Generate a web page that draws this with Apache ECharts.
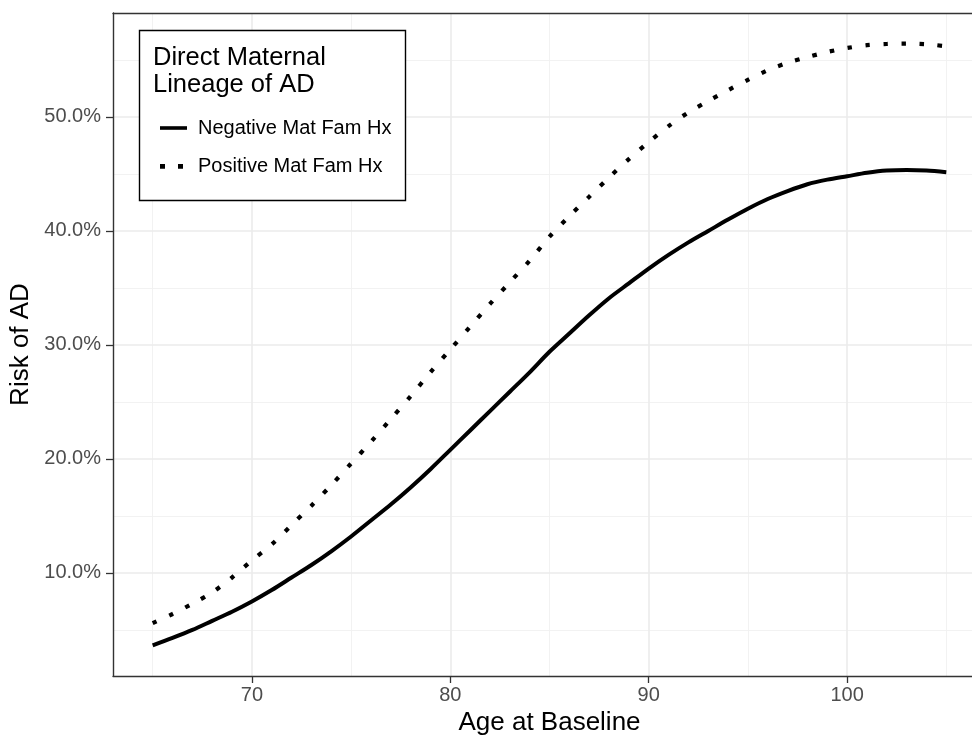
<!DOCTYPE html>
<html>
<head>
<meta charset="utf-8">
<script src="https://cdn.jsdelivr.net/npm/echarts@6/dist/echarts.min.js"></script>
<style>
html,body{margin:0;padding:0;background:#fff;}
#chart{width:972px;height:736px;}
</style>
</head>
<body>
<div id="chart"></div>
<script>
// ---- data ----
const ages = [65,66,67,68,69,70,71,72,73,74,75,76,77,78,79,80,81,82,83,84,85,86,87,88,89,90,91,92,93,94,95,96,97,98,99,100,101,102,103,104,105];
const negativeRisk = [3.65,4.3,5.0,5.8,6.6,7.5,8.5,9.6,10.7,11.9,13.2,14.6,16.0,17.5,19.1,20.8,22.5,24.2,25.9,27.6,29.4,31.0,32.6,34.1,35.4,36.7,37.9,39.0,40.0,41.0,41.95,42.8,43.5,44.1,44.5,44.8,45.1,45.3,45.35,45.3,45.15];
const positiveRisk = [5.6,6.4,7.3,8.3,9.6,11.1,12.5,14.2,15.9,17.7,19.6,21.5,23.5,25.5,27.6,29.6,31.6,33.6,35.5,37.4,39.5,41.3,43.0,44.7,46.3,47.8,49.2,50.4,51.4,52.35,53.25,54.1,54.75,55.25,55.7,56.05,56.3,56.4,56.43,56.38,56.2];
const seriesNames = ['Negative Mat Fam Hx','Positive Mat Fam Hx'];
const legendTitle = 'Direct Maternal\nLineage of AD';
const xMajorTicks = [70,80,90,100];
const xMinorTicks = [65,75,85,95,105];
const yMajorTicks = [10,20,30,40,50];
const yMinorTicks = [5,15,25,35,45,55];
const xRange = [63,107];
const yRange = [0.96,59.12];

const FONT = '"Liberation Sans", Arial, Helvetica, sans-serif';
const chart = echarts.init(document.getElementById('chart'), null, {renderer:'canvas'});

function pairs(vals){ return ages.map((a,i)=>[a, vals[i]]); }

const majorGrid = {show:true, lineStyle:{color:'#ebebeb', width:1.6}};
const minorGrid = {show:true, lineStyle:{color:'#f0f0f0', width:0.9}};
const borderLine = {show:true, onZero:false, lineStyle:{color:'#333333', width:1.4}};

// legend key glyphs (icon paths; trailing moves fix the icon's box to 27x20)
const solidKey = 'path://M0,8.2h27v3.6h-27zM0,0M27,20';
const dottedKey = 'path://M0,7.6h5v4.8h-5zM18,7.6h5v4.8h-5zM0,0M27,20';

const option = {
  animation:false,
  backgroundColor:'#ffffff',
  grid:{left:113, top:13, width:873, height:663, outerBoundsMode:'none', containLabel:false,
        show:true, backgroundColor:'#ffffff', borderWidth:0, z:0},
  xAxis:[
    {type:'value', min:xRange[0], max:xRange[1], gridIndex:0, position:'bottom',
     axisLine:{show:false}, axisLabel:{show:false}, axisTick:{show:false, customValues:xMinorTicks},
     splitLine:minorGrid, z:0},
    {type:'value', min:xRange[0], max:xRange[1], gridIndex:0, position:'bottom',
     name:'Age at Baseline', nameLocation:'middle', nameGap:34,
     nameTextStyle:{fontFamily:FONT, fontSize:26, color:'#000'},
     axisLine:borderLine,
     axisTick:{show:true, customValues:xMajorTicks, length:7, lineStyle:{color:'#333333', width:1.3}},
     axisLabel:{show:true, customValues:xMajorTicks, margin:9, fontFamily:FONT, fontSize:20, color:'#4d4d4d'},
     splitLine:majorGrid, z:1},
    {type:'value', min:xRange[0], max:xRange[1], gridIndex:0, position:'top',
     axisLine:borderLine, axisLabel:{show:false}, axisTick:{show:false}, splitLine:{show:false}, z:5}
  ],
  yAxis:[
    {type:'value', min:yRange[0], max:yRange[1], gridIndex:0, position:'right',
     axisLine:{show:false}, axisLabel:{show:false}, axisTick:{show:false, customValues:yMinorTicks},
     splitLine:minorGrid, z:0},
    {type:'value', min:yRange[0], max:yRange[1], gridIndex:0, position:'left',
     name:'Risk of AD', nameLocation:'middle', nameGap:79.5,
     nameTextStyle:{fontFamily:FONT, fontSize:26, color:'#000'},
     axisLine:borderLine,
     axisTick:{show:true, customValues:yMajorTicks, length:7, lineStyle:{color:'#333333', width:1.3}},
     axisLabel:{show:true, customValues:yMajorTicks, margin:12, fontFamily:FONT, fontSize:20, color:'#4d4d4d',
       formatter:v=>v.toFixed(1)+'%'},
     splitLine:majorGrid, z:1}
  ],
  legend:{
    show:true, orient:'vertical', left:155, top:113, z:10,
    itemWidth:27, itemHeight:20, itemGap:18.4,
    itemStyle:{color:'#000', borderWidth:0},
    textStyle:{fontFamily:FONT, fontSize:20, color:'#000', lineHeight:20, padding:[0,0,0,6]},
    data:[{name:seriesNames[0], icon:solidKey}, {name:seriesNames[1], icon:dottedKey}]
  },
  graphic:[
    {type:'rect', z:8, shape:{x:139.5, y:30.5, width:266, height:170},
     style:{fill:'#ffffff', stroke:'#000000', lineWidth:1.4}},
    {type:'text', z:9, left:153, top:44,
     style:{text:legendTitle, font:'25.5px '+FONT, fill:'#000', lineHeight:27}}
  ],
  series:[
    {name:seriesNames[0], type:'line', xAxisIndex:1, yAxisIndex:1, data:pairs(negativeRisk),
     showSymbol:false, symbol:'none', smooth:0.3, z:3,
     lineStyle:{color:'#000', width:4, type:'solid', cap:'butt'}, itemStyle:{color:'#000'}},
    {name:seriesNames[1], type:'line', xAxisIndex:1, yAxisIndex:1, data:pairs(positiveRisk),
     showSymbol:false, symbol:'none', smooth:0.3, z:3,
     lineStyle:{color:'#000', width:4.2, type:[4.5,13.5], cap:'butt'}, itemStyle:{color:'#000'}}
  ]
};
chart.setOption(option);
</script>
</body>
</html>
